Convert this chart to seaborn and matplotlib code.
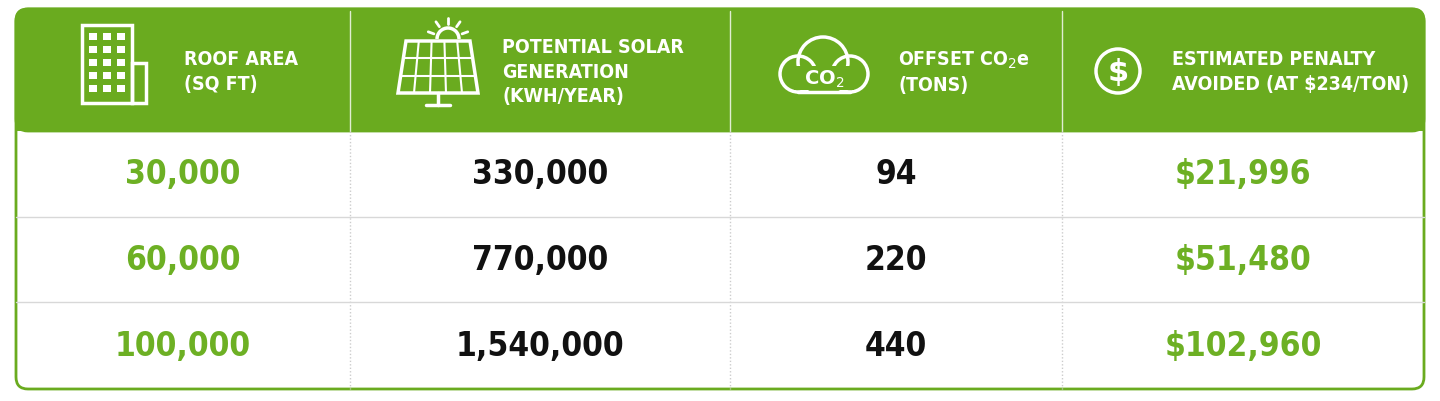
#!/usr/bin/env python
# solar offset table rendered with seaborn / matplotlib

import numpy as np
import pandas as pd
import matplotlib.pyplot as plt
import matplotlib.patches as mpatches
import seaborn as sns

# ===================== style =====================

sns.set_style("white")
plt.rcParams['font.family'] = ['DejaVu Sans']
GREEN = "#6aab1f"
TEXT_GREEN = "#6db024"

# ===================== data =====================

headers = [
    "ROOF AREA\n(SQ FT)",
    "POTENTIAL SOLAR\nGENERATION\n(KWH/YEAR)",
    "OFFSET CO$_2$e\n(TONS)",
    "ESTIMATED PENALTY\nAVOIDED (AT $234/TON)",
]
data = pd.DataFrame({
    "roof": [30000, 60000, 100000],
    "kwh": [330000, 770000, 1540000],
    "co2": [94, 220, 440],
    "penalty": [21996, 51480, 102960],
})
col_edges = [16, 350, 730, 1062, 1424]
row_edges = [132, 218, 303, 390]
col_colors = [TEXT_GREEN, "#111111", "#111111", TEXT_GREEN]

# ===================== icons =====================

def draw_building(ax, x, y):
    ax.add_patch(mpatches.Rectangle((x, y), 50, 78, fill=False, ec="white", lw=2.5))
    ax.add_patch(mpatches.Rectangle((x + 50, y + 38), 14, 40, fill=False, ec="white", lw=2.5))
    for i in range(3):
        for j in range(5):
            ax.add_patch(mpatches.Rectangle((x + 7 + i * 14, y + 8 + j * 13), 8, 7,
                                            fc="white", ec="none"))

def draw_panel(ax, x, y):
    ax.add_patch(mpatches.Polygon([[x + 8, y + 20], [x + 72, y + 20], [x + 80, y + 72], [x, y + 72]],
                                  closed=True, fill=False, ec="white", lw=2.5))
    for k in range(1, 5):
        t = k / 5
        ax.plot([x + 8 + 64 * t, x + 80 * t], [y + 20, y + 72], color="white", lw=1.5)
    for k in range(1, 3):
        t = k / 3
        ax.plot([x + 8 - 8 * t, x + 72 + 8 * t], [y + 20 + 52 * t, y + 20 + 52 * t], color="white", lw=1.5)
    ax.plot([x + 40, x + 40], [y + 72, y + 84], color="white", lw=2.5)
    ax.plot([x + 28, x + 52], [y + 84, y + 84], color="white", lw=2.5)
    ax.add_patch(mpatches.Arc((x + 50, y + 18), 22, 22, theta1=180, theta2=360, ec="white", lw=2.5))
    for a in np.linspace(160, 20, 5):
        r = np.deg2rad(a)
        ax.plot([x + 50 + 15 * np.cos(r), x + 50 + 21 * np.cos(r)],
                [y + 18 - 15 * np.sin(r), y + 18 - 21 * np.sin(r)], color="white", lw=2)

def draw_cloud(ax, x, y):
    for cx, cy, w in [(x + 20, y + 50, 36), (x + 45, y + 38, 50), (x + 72, y + 50, 36)]:
        ax.add_patch(mpatches.Ellipse((cx, cy), w, w, fill=False, ec="white", lw=2.5))
    ax.add_patch(mpatches.Rectangle((x + 16, y + 42), 60, 24, fc=GREEN, ec="none"))
    ax.plot([x + 20, x + 72], [y + 68, y + 68], color="white", lw=2.5)
    ax.text(x + 46, y + 54, "CO$_2$", color="white", fontsize=14, fontweight="bold",
            ha="center", va="center")

def draw_dollar(ax, x, y):
    ax.add_patch(mpatches.Circle((x, y), 22, fill=False, ec="white", lw=2.5))
    ax.text(x, y, "$", color="white", fontsize=22, fontweight="bold", ha="center", va="center")

# ===================== figure =====================

fig = plt.figure(figsize=(14.4, 4.02), dpi=100)
ax = fig.add_axes([0, 0, 1, 1])
ax.set_xlim(0, 1440)
ax.set_ylim(402, 0)
ax.axis("off")

ax.add_patch(mpatches.FancyBboxPatch((16, 10), 1408, 380, boxstyle="round,pad=0,rounding_size=12",
                                     fc="white", ec=GREEN, lw=2))
ax.add_patch(mpatches.FancyBboxPatch((16, 10), 1408, 122, boxstyle="round,pad=0,rounding_size=12",
                                     fc=GREEN, ec=GREEN, lw=2))
ax.add_patch(mpatches.Rectangle((16, 110), 1408, 22, fc=GREEN, ec="none"))

for xe in col_edges[1:-1]:
    ax.plot([xe, xe], [12, 132], color="white", lw=1, alpha=0.8)
    ax.plot([xe, xe], [132, 390], color="#cccccc", lw=1, ls=(0, (1, 1.5)))
for ye in row_edges[1:-1]:
    ax.plot([16, 1424], [ye, ye], color="#d8d8d8", lw=1)

draw_building(ax, 82, 26)
draw_panel(ax, 398, 22)
draw_cloud(ax, 778, 25)
draw_dollar(ax, 1118, 72)
text_x = [184, 502, 898, 1172]
for tx, h in zip(text_x, headers):
    ax.text(tx, 72, h, color="white", fontsize=14, fontweight="bold", fontstretch="condensed",
            ha="left", va="center", linespacing=1.35)

for j, col in enumerate(data.columns):
    cx = (col_edges[j] + col_edges[j + 1]) / 2
    for i, v in enumerate(data[col]):
        cy = (row_edges[i] + row_edges[i + 1]) / 2
        label = f"${v:,}" if col == "penalty" else f"{v:,}"
        ax.text(cx, cy, label, color=col_colors[j], fontsize=24, fontweight="bold",
                fontstretch="condensed", ha="center", va="center")

fig.savefig("out.png", dpi=100)
plt.close()
